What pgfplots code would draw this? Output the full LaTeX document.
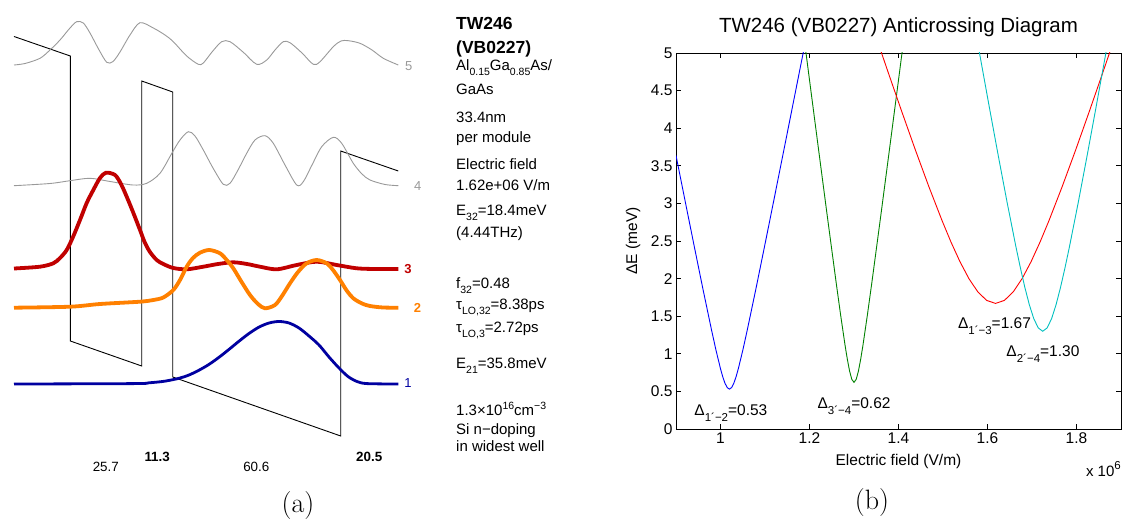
\documentclass[border=0pt]{standalone}
\usepackage{pgfplots}
\pgfplotsset{compat=1.18}
\usepackage{fontspec}
\newfontfamily\hv{Liberation Sans}
\newcommand{\fs}[1]{\fontsize{#1}{#1}\selectfont}
\newcommand{\sub}[1]{\raisebox{-5pt}{\fontsize{10.5}{10.5}\selectfont #1}}
\newcommand{\sups}[1]{\raisebox{6pt}{\fontsize{10.5}{10.5}\selectfont #1}}
\newcommand{\subb}[1]{\raisebox{-6pt}{\fontsize{11.5}{11.5}\selectfont #1}}
\newcommand{\supb}[1]{\raisebox{6.5pt}{\fontsize{11.5}{11.5}\selectfont #1}}
\definecolor{wred}{RGB}{192,0,0}
\definecolor{worange}{RGB}{255,128,0}
\definecolor{wblue}{RGB}{0,0,160}
\definecolor{wgray}{RGB}{153,153,153}
\definecolor{mblue}{RGB}{0,0,255}
\definecolor{mgreen}{RGB}{0,128,0}
\definecolor{mred}{RGB}{255,0,0}
\definecolor{mcyan}{RGB}{0,191,191}
\begin{document}
\begin{tikzpicture}
\useasboundingbox (0pt,0pt) rectangle (1122pt,521pt);
% ---------- panel (a), pixel coordinates ----------
\begin{axis}[at={(561pt,260.5pt)}, anchor=center, scale only axis,
  width=1122pt, height=521pt, xmin=0, xmax=1122, ymin=0, ymax=521,
  y dir=reverse, hide axis, clip=false]
% conduction band
\addplot[black, line width=0.9pt] coordinates {
(14,36.5) (70.3,56) (70.3,341) (141.7,366) (141.7,81) (172.7,92) (172.7,377) (340.7,436) (340.7,151) (398.3,171)};
% level 5
\addplot[wgray, line width=0.9pt, smooth, tension=0.5] coordinates {
(14,65) (25,63.5) (40,58.3) (50,50) (60,40) (70,28) (76.7,21.7) (83.3,23) (90,33) (98,48) (106.7,62.3) (113,61.5) (120,52) (130,35) (140,22.7) (153.3,28) (165,35) (173.3,41.7) (186.7,56) (198.3,64.3) (203.3,63) (212,52) (221.7,41.7) (230,41.7) (243,52) (256.7,64.3) (266.7,60) (275,50) (283.3,41.7) (290,42.7) (302,53) (313.3,64.3) (320,61.7) (333.3,46.7) (341,41) (348.3,40.7) (360,43.3) (372,50) (383.3,58.3) (398.3,65)};
% level 4
\addplot[wgray, line width=0.9pt, smooth, tension=0.5] coordinates {
(14,185.7) (50,183.5) (70,180.7) (90,178.3) (110,181.5) (133,185) (146.7,183.3) (160,173.3) (172,153) (180,140) (188.3,131.7) (195,136) (203.3,150) (213,168) (223.3,184.3) (230,183.3) (238,170) (246.7,153.3) (255,140) (265,135.7) (273.3,143.3) (285,165) (296.7,185) (303.3,181.7) (312,165) (321.7,146.7) (333.3,137.3) (341.7,143.3) (353.3,163.3) (362,174) (370,180) (385,184.5) (398.3,185.7)};
% level 3
\addplot[wred, line width=3.8pt, smooth, tension=0.5] coordinates {
(14,268.5) (40,266.7) (53.3,263.3) (60,258) (66.7,250) (73,237) (80,220) (86.7,203) (93.3,190) (100,178) (106,172.7) (115,175) (121,184) (126.7,196.7) (133,212) (140,230) (145,243) (150,252) (156.7,260) (163.3,264) (173.3,268) (186.7,269.3) (203.3,266.7) (218,264) (233.3,262.3) (247,264) (260,266.7) (276.7,269.3) (296.7,265) (316.7,261.7) (336.7,265) (356.7,268.3) (375,269) (398.3,269)};
% level 2
\addplot[worange, line width=3.8pt, smooth, tension=0.5] coordinates {
(14,307.7) (70.3,306.7) (100,304) (140,301.7) (153.3,300) (163.3,297.5) (173.3,290) (180,280) (186.7,266.7) (193,258) (200,252.7) (209.3,250) (220,253.3) (226.7,260) (233.3,268.3) (241,281) (250,295) (258,304) (265,308.3) (275,305) (282,296) (290,283.3) (298,272) (306.7,263.3) (316.7,260) (326.7,263.3) (333,270) (340,280) (347,291) (353.3,298.3) (362,303.5) (370,306) (383,307.5) (398.3,307.7)};
% level 1
\addplot[wblue, line width=2.8pt, smooth, tension=0.5] coordinates {
(14,384) (134,383.6) (149,382.8) (164,381.3) (179,378.3) (189,375) (199,370.2) (209,364.4) (219,357.3) (229,349.4) (239,341.2) (249,333.5) (259,327.1) (269,323) (279,321.5) (289,323) (299,328) (309,336) (319,345) (329,357) (339,368) (348,376.5) (357,381.5) (367,383.6) (398.3,384)};
% level labels
\node[font=\fs{13}\hv, text=wgray] at (axis cs:408.7,66) {5};
\node[font=\fs{13}\hv, text=wgray] at (axis cs:417.7,185.7) {4};
\node[font=\fs{13}\hv\bfseries, text=wred] at (axis cs:408,269) {3};
\node[font=\fs{13}\hv\bfseries, text=worange] at (axis cs:417.5,308) {2};
\node[font=\fs{13}\hv, text=wblue] at (axis cs:408,383.5) {1};
% layer thicknesses
\node[font=\fs{13.4}\hv] at (axis cs:105.8,466.7) {25.7};
\node[font=\fs{13.4}\hv\bfseries] at (axis cs:157.2,456.7) {11.3};
\node[font=\fs{13.4}\hv] at (axis cs:256.3,467) {60.6};
\node[font=\fs{13.4}\hv\bfseries] at (axis cs:369.2,456.7) {20.5};
% text column
\node[anchor=base west, inner sep=0pt, font=\fs{17.5}\hv\bfseries] at (axis cs:456,29.5) {TW246};
\node[anchor=base west, inner sep=0pt, font=\fs{17.5}\hv\bfseries] at (axis cs:456,53.5) {(VB0227)};
\node[anchor=base west, inner sep=0pt, font=\fs{15}\hv] at (axis cs:456,70.7) {Al\sub{0.15}Ga\sub{0.85}As/};
\node[anchor=base west, inner sep=0pt, font=\fs{15}\hv] at (axis cs:456,94.3) {GaAs};
\node[anchor=base west, inner sep=0pt, font=\fs{15}\hv] at (axis cs:456,122.7) {33.4nm};
\node[anchor=base west, inner sep=0pt, font=\fs{15}\hv] at (axis cs:456,142.7) {per module};
\node[anchor=base west, inner sep=0pt, font=\fs{15}\hv] at (axis cs:456,170) {Electric field};
\node[anchor=base west, inner sep=0pt, font=\fs{15}\hv] at (axis cs:456,190.7) {1.62e+06 V/m};
\node[anchor=base west, inner sep=0pt, font=\fs{15}\hv] at (axis cs:456,216) {E\sub{32}=18.4meV};
\node[anchor=base west, inner sep=0pt, font=\fs{15}\hv] at (axis cs:456,237.3) {(4.44THz)};
\node[anchor=base west, inner sep=0pt, font=\fs{15}\hv] at (axis cs:456,288.3) {f\sub{32}=0.48};
\node[anchor=base west, inner sep=0pt, font=\fs{15}\hv] at (axis cs:456,310) {τ\sub{LO,32}=8.38ps};
\node[anchor=base west, inner sep=0pt, font=\fs{15}\hv] at (axis cs:456,332.3) {τ\sub{LO,3}=2.72ps};
\node[anchor=base west, inner sep=0pt, font=\fs{15}\hv] at (axis cs:456,368.3) {E\sub{21}=35.8meV};
\node[anchor=base west, inner sep=0pt, font=\fs{15}\hv] at (axis cs:456,415.7) {1.3×10\sups{16}cm\sups{−3}};
\node[anchor=base west, inner sep=0pt, font=\fs{15}\hv] at (axis cs:456,434) {Si n−doping};
\node[anchor=base west, inner sep=0pt, font=\fs{15}\hv] at (axis cs:456,451) {in widest well};
% panel captions
\node[font=\fs{28}\rmfamily] at (axis cs:298,505.5) {(a)};
\node[font=\fs{28}\rmfamily] at (axis cs:872,503) {(b)};
\node[anchor=base east, inner sep=0pt, font=\fs{15}\hv] at (axis cs:1121,476) {x 10\supb{6}};
\end{axis}
% ---------- panel (b) ----------
\begin{axis}[at={(898.5pt,280pt)}, anchor=center, scale only axis,
  width=445pt, height=376pt, xmin=0.9, xmax=1.9, ymin=0, ymax=5,
  xtick={1,1.2,1.4,1.6,1.8}, xticklabels={1,1.2,1.4,1.6,1.8},
  ytick={0,0.5,1,1.5,2,2.5,3,3.5,4,4.5,5},
  yticklabels={0,0.5,1,1.5,2,2.5,3,3.5,4,4.5,5},
  tick align=inside, major tick length=5pt,
  tick style={black, line width=0.6pt},
  axis line style={black, line width=0.9pt},
  tick label style={font=\fs{15.5}\hv},
  xlabel={Electric field (V/m)}, ylabel={ΔE (meV)},
  every axis x label/.style={at={(axis description cs:0.5,-0.087)}, anchor=center, font=\fs{15.5}\hv},
  every axis y label/.style={at={(axis description cs:-0.0966,0.5)}, rotate=90, anchor=center, font=\fs{15.5}\hv},
  title={TW246 (VB0227) Anticrossing Diagram},
  title style={font=\fs{20.5}\hv, at={(axis description cs:0.5,1.053)}, anchor=center},
]
\addplot[mblue, line width=0.9pt] coordinates {
(0.90,3.639) (0.92,3.046) (0.94,2.458) (0.96,1.876) (0.98,1.312) (0.99,1.044) (1.00,0.801) (1.005,0.695) (1.01,0.609) (1.015,0.551) (1.02,0.53) (1.025,0.551) (1.03,0.609) (1.035,0.695) (1.04,0.801) (1.05,1.044) (1.06,1.312) (1.08,1.876) (1.10,2.458) (1.12,3.046) (1.14,3.639) (1.16,4.233) (1.18,4.829) (1.19,5.127)};
\addplot[mgreen, line width=0.9pt] coordinates {
(1.18,5.555) (1.19,5.098) (1.20,4.641) (1.22,3.732) (1.24,2.829) (1.26,1.942) (1.27,1.513) (1.28,1.109) (1.285,0.928) (1.29,0.772) (1.295,0.661) (1.30,0.62) (1.305,0.661) (1.31,0.772) (1.315,0.928) (1.32,1.109) (1.33,1.513) (1.34,1.942) (1.36,2.829) (1.38,3.732) (1.40,4.641) (1.41,5.098) (1.42,5.555)};
\addplot[mred, line width=0.9pt] coordinates {
(1.348,5.241) (1.378,4.721) (1.408,4.210) (1.438,3.709) (1.468,3.226) (1.498,2.769) (1.518,2.485) (1.538,2.226) (1.558,2.002) (1.578,1.825) (1.598,1.710) (1.618,1.67) (1.638,1.710) (1.658,1.825) (1.678,2.002) (1.698,2.226) (1.718,2.485) (1.738,2.769) (1.768,3.226) (1.798,3.709) (1.828,4.210) (1.858,4.721) (1.888,5.241)};
\addplot[mcyan, line width=0.9pt] coordinates {
(1.574,5.263) (1.584,4.934) (1.604,4.282) (1.624,3.640) (1.644,3.015) (1.664,2.419) (1.674,2.140) (1.684,1.881) (1.694,1.652) (1.704,1.467) (1.714,1.344) (1.724,1.30) (1.734,1.344) (1.744,1.467) (1.754,1.652) (1.764,1.881) (1.774,2.140) (1.784,2.419) (1.804,3.015) (1.824,3.640) (1.844,4.282) (1.864,4.934) (1.874,5.263)};
\node[anchor=base west, inner sep=0pt, font=\fs{15.5}\hv] at (axis cs:0.941,0.186) {Δ\subb{1´−2}=0.53};
\node[anchor=base west, inner sep=0pt, font=\fs{15.5}\hv] at (axis cs:1.2178,0.275) {Δ\subb{3´−4}=0.62};
\node[anchor=base west, inner sep=0pt, font=\fs{15.5}\hv] at (axis cs:1.5333,1.339) {Δ\subb{1´−3}=1.67};
\node[anchor=base west, inner sep=0pt, font=\fs{15.5}\hv] at (axis cs:1.6422,0.961) {Δ\subb{2´−4}=1.30};
\end{axis}
\end{tikzpicture}
\end{document}
